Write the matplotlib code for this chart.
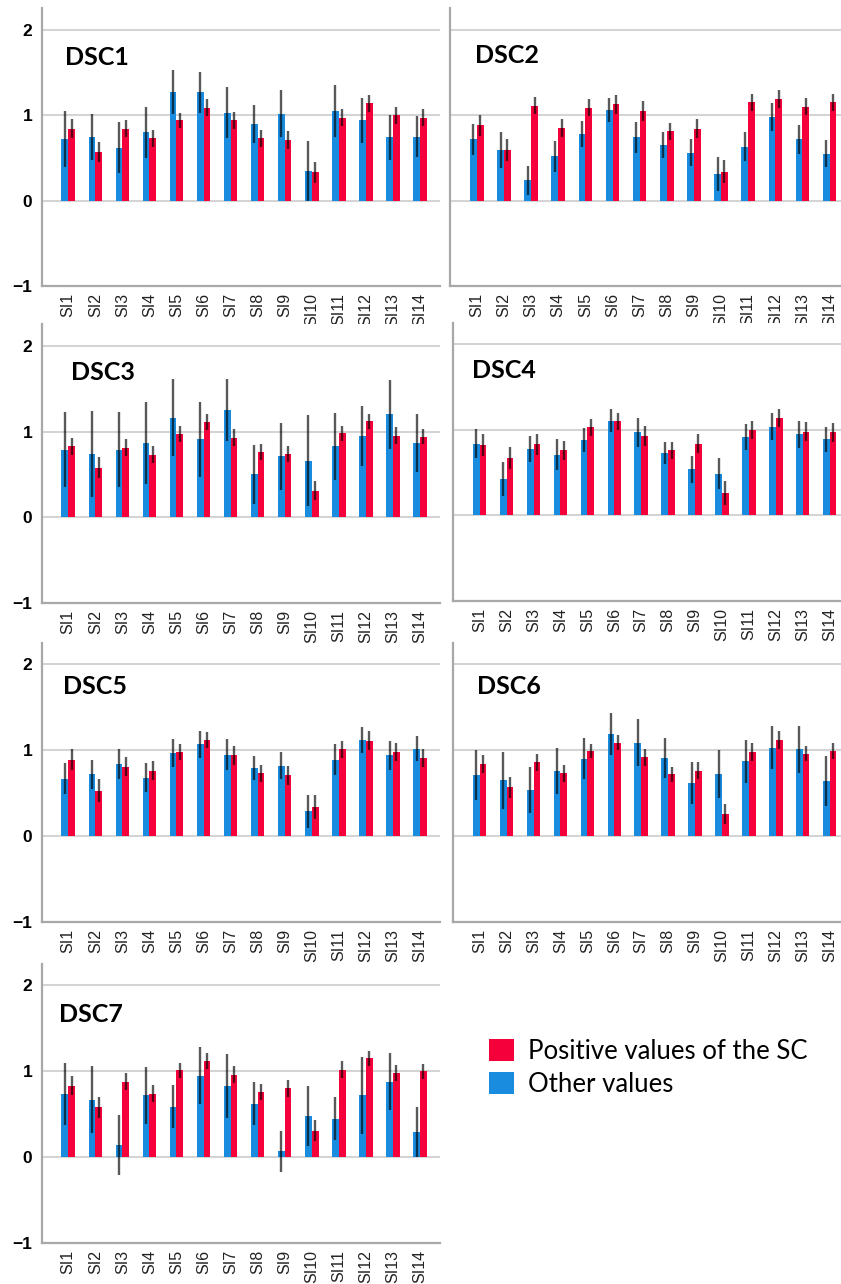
"""Seven DSC panels of mean scores per SI item, split by the sign of the SC.

    python plot.py   # writes out.png
"""

import matplotlib
matplotlib.use("Agg")
import matplotlib.pyplot as plt
import numpy as np
from matplotlib.patches import Patch

ITEMS = [f"SI{i}" for i in range(1, 15)]
PANELS = ["DSC1", "DSC2", "DSC3", "DSC4", "DSC5", "DSC6", "DSC7"]

# "Other values" (blue): mean and half-width of the error bar
OTHER_MEAN = {
    "DSC1": [0.72, 0.74, 0.62, 0.80, 1.27, 1.27, 1.03, 0.90, 1.02, 0.35, 1.05, 0.94, 0.74, 0.75],
    "DSC2": [0.72, 0.59, 0.24, 0.52, 0.78, 1.06, 0.74, 0.65, 0.56, 0.31, 0.63, 0.98, 0.72, 0.55],
    "DSC3": [0.79, 0.74, 0.79, 0.87, 1.16, 0.91, 1.25, 0.50, 0.71, 0.66, 0.83, 0.95, 1.20, 0.87],
    "DSC4": [0.84, 0.43, 0.78, 0.71, 0.88, 1.11, 0.97, 0.73, 0.54, 0.49, 0.92, 1.04, 0.95, 0.89],
    "DSC5": [0.67, 0.72, 0.84, 0.68, 0.97, 1.07, 0.95, 0.79, 0.82, 0.29, 0.89, 1.12, 0.94, 1.02],
    "DSC6": [0.71, 0.65, 0.54, 0.76, 0.90, 1.19, 1.09, 0.91, 0.62, 0.72, 0.87, 1.03, 1.01, 0.64],
    "DSC7": [0.74, 0.67, 0.14, 0.72, 0.59, 0.95, 0.83, 0.62, 0.07, 0.48, 0.45, 0.72, 0.88, 0.29],
}
OTHER_ERR = {
    "DSC1": [0.33, 0.27, 0.30, 0.30, 0.26, 0.24, 0.30, 0.22, 0.27, 0.35, 0.30, 0.26, 0.26, 0.24],
    "DSC2": [0.18, 0.21, 0.17, 0.18, 0.15, 0.14, 0.18, 0.15, 0.16, 0.20, 0.17, 0.16, 0.17, 0.16],
    "DSC3": [0.44, 0.50, 0.44, 0.48, 0.45, 0.44, 0.36, 0.34, 0.39, 0.53, 0.39, 0.35, 0.40, 0.34],
    "DSC4": [0.17, 0.20, 0.15, 0.18, 0.14, 0.14, 0.17, 0.13, 0.16, 0.18, 0.15, 0.16, 0.16, 0.15],
    "DSC5": [0.18, 0.17, 0.17, 0.17, 0.16, 0.16, 0.18, 0.14, 0.16, 0.19, 0.18, 0.15, 0.17, 0.15],
    "DSC6": [0.29, 0.33, 0.27, 0.27, 0.24, 0.25, 0.27, 0.23, 0.24, 0.28, 0.25, 0.25, 0.27, 0.29],
    "DSC7": [0.36, 0.39, 0.35, 0.33, 0.25, 0.33, 0.37, 0.25, 0.24, 0.35, 0.25, 0.45, 0.33, 0.29],
}

# "Positive values of the SC" (red)
POS_MEAN = {
    "DSC1": [0.84, 0.57, 0.84, 0.73, 0.94, 1.09, 0.94, 0.73, 0.71, 0.33, 0.97, 1.14, 1.00, 0.97],
    "DSC2": [0.88, 0.59, 1.11, 0.85, 1.09, 1.13, 1.05, 0.81, 0.84, 0.34, 1.15, 1.19, 1.10, 1.15],
    "DSC3": [0.83, 0.58, 0.81, 0.73, 0.97, 1.11, 0.93, 0.76, 0.74, 0.31, 0.98, 1.12, 0.95, 0.94],
    "DSC4": [0.82, 0.67, 0.83, 0.76, 1.03, 1.10, 0.93, 0.76, 0.84, 0.26, 1.00, 1.14, 0.98, 0.97],
    "DSC5": [0.89, 0.53, 0.81, 0.76, 0.98, 1.12, 0.94, 0.73, 0.71, 0.34, 1.01, 1.11, 0.98, 0.91],
    "DSC6": [0.84, 0.57, 0.86, 0.73, 0.99, 1.09, 0.92, 0.72, 0.76, 0.26, 0.98, 1.12, 0.96, 0.99],
    "DSC7": [0.83, 0.58, 0.88, 0.74, 1.01, 1.12, 0.96, 0.76, 0.80, 0.31, 1.02, 1.15, 0.98, 1.00],
}
POS_ERR = {
    "DSC1": [0.11, 0.12, 0.10, 0.10, 0.09, 0.10, 0.10, 0.10, 0.10, 0.12, 0.10, 0.10, 0.10, 0.10],
    "DSC2": [0.12, 0.13, 0.10, 0.11, 0.10, 0.11, 0.12, 0.10, 0.11, 0.13, 0.10, 0.11, 0.10, 0.10],
    "DSC3": [0.10, 0.12, 0.10, 0.10, 0.09, 0.09, 0.10, 0.09, 0.09, 0.11, 0.09, 0.09, 0.10, 0.09],
    "DSC4": [0.13, 0.13, 0.12, 0.11, 0.10, 0.10, 0.12, 0.10, 0.11, 0.14, 0.11, 0.11, 0.11, 0.11],
    "DSC5": [0.12, 0.13, 0.11, 0.11, 0.09, 0.09, 0.11, 0.10, 0.11, 0.14, 0.10, 0.11, 0.11, 0.11],
    "DSC6": [0.11, 0.12, 0.10, 0.10, 0.08, 0.09, 0.10, 0.09, 0.10, 0.12, 0.10, 0.10, 0.09, 0.09],
    "DSC7": [0.11, 0.12, 0.10, 0.10, 0.09, 0.09, 0.10, 0.09, 0.10, 0.12, 0.10, 0.09, 0.09, 0.09],
}

BLUE = "#1a8ce0"
RED = "#f5003a"
W, H = 841, 1284

# panel boxes in pixels: (left, top, right, bottom); title spot (axes-x frac, data-y)
LAYOUT = {
    "DSC1": ((42, 8.5, 440, 286), (0.058, 1.59)),
    "DSC2": ((450, 8.5, 841, 286), (0.064, 1.61)),
    "DSC3": ((42, 324.5, 440, 603), (0.072, 1.60)),
    "DSC4": ((453, 323, 841, 601), (0.048, 1.61)),
    "DSC5": ((42, 643, 440, 922), (0.054, 1.66)),
    "DSC6": ((453, 643, 841, 922), (0.062, 1.66)),
    "DSC7": ((42, 964, 440, 1243), (0.043, 1.58)),
}


def panel(fig, name):
    (l, t, r, b), (tx, ty) = LAYOUT[name]
    ax = fig.add_axes([l / W, 1 - b / H, (r - l) / W, (b - t) / H])
    x = np.arange(len(ITEMS))
    bw = 0.25
    ax.bar(x - bw / 2, OTHER_MEAN[name], bw, color=BLUE, zorder=2)
    ax.bar(x + bw / 2, POS_MEAN[name], bw, color=RED, zorder=2)
    ekw = dict(fmt="none", ecolor="black", alpha=0.65, elinewidth=1.7, capsize=0, zorder=3)
    ax.errorbar(x - bw / 2, OTHER_MEAN[name], yerr=OTHER_ERR[name], **ekw)
    ax.errorbar(x + bw / 2, POS_MEAN[name], yerr=POS_ERR[name], **ekw)

    left_col = l < 100
    ax.set_xlim(-0.97, 13.74) if left_col else ax.set_xlim(-0.99, 13.42)
    ax.set_ylim(-1, 2.25)
    ax.set_yticks([-1, 0, 1, 2])
    ax.set_yticklabels(["\u22121", "0", "1", "2"])
    ax.yaxis.grid(True, color="#d4d4d4", linewidth=1.5, zorder=0)
    ax.set_axisbelow(True)
    ax.set_xticks(x)
    ax.set_xticklabels(ITEMS, rotation=90, fontsize=11.5, family="Liberation Sans", color="#222222")
    ax.tick_params(axis="x", length=0, pad=5)
    ax.tick_params(axis="y", length=0, pad=7, labelsize=12.5, labelleft=left_col)
    for lab in ax.get_yticklabels():
        lab.set_fontweight("bold")
        lab.set_family("Liberation Sans")
    for s in ("top", "right"):
        ax.spines[s].set_visible(False)
    for s in ("left", "bottom"):
        ax.spines[s].set_color("#a8a8a8")
        ax.spines[s].set_linewidth(1.6)
    ax.text(tx, ty, name, transform=ax.get_yaxis_transform(), fontsize=18,
            fontweight="bold", family="Lato", va="baseline", ha="left")
    return ax


def build():
    fig = plt.figure(figsize=(W / 100, H / 100), dpi=100)
    for name in PANELS:
        panel(fig, name)

    handles = [Patch(facecolor=RED, edgecolor="none"), Patch(facecolor=BLUE, edgecolor="none")]
    fig.legend(handles, ["Positive values of the SC", "Other values"],
               loc="upper left", bbox_to_anchor=(484 / W, 1 - 1034 / H),
               frameon=False, prop={"family": "Lato", "size": 18.5},
               handlelength=0.95, handleheight=0.95, handletextpad=0.55,
               labelspacing=0.3, borderaxespad=0, borderpad=0.2)
    fig.savefig("out.png", dpi=100)


if __name__ == "__main__":
    build()
